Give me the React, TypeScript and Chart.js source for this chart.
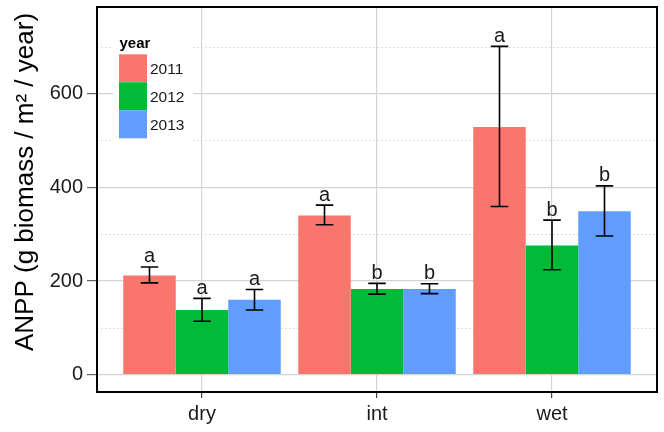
import React, { useEffect, useRef } from "react";
import { Chart, registerables } from "chart.js";

Chart.register(...registerables);

const categories = ["dry", "int", "wet"];
const years = ["2011", "2012", "2013"];

const mean2011 = [212, 340, 529];
const upper2011 = [230, 362, 701];
const lower2011 = [196, 320, 359];
const letters2011 = ["a", "a", "a"];

const mean2012 = [138, 183, 276];
const upper2012 = [163, 195, 330];
const lower2012 = [114, 172, 224];
const letters2012 = ["a", "b", "b"];

const mean2013 = [160, 183, 349];
const upper2013 = [182, 194, 403];
const lower2013 = [138, 173, 296];
const letters2013 = ["a", "b", "b"];

const yMajorTicks = [0, 200, 400, 600];
const yMinorLines = [100, 300, 500, 700];

const yearColors = ["#F8766D", "#00BA38", "#619CFF"];
const yTitle = "ANPP (g biomass / m\u00B2 / year)";
const legendTitle = "year";

const FONT = "'Liberation Sans', Arial, Helvetica, sans-serif";

const overlayPlugin = {
  id: "overlay",
  beforeDatasetsDraw(chart: any) {
    const { ctx, chartArea } = chart;
    const y = chart.scales.y;
    ctx.save();
    ctx.strokeStyle = "#d0d0d0";
    ctx.lineWidth = 1;
    ctx.setLineDash([1.5, 2.5]);
    yMinorLines.forEach((v) => {
      const py = Math.round(y.getPixelForValue(v)) + 0.5;
      ctx.beginPath();
      ctx.moveTo(chartArea.left, py);
      ctx.lineTo(chartArea.right, py);
      ctx.stroke();
    });
    ctx.restore();
  },
  afterDatasetsDraw(chart: any) {
    const { ctx } = chart;
    const x = chart.scales.x;
    const y = chart.scales.y;
    const half = x.getPixelForValue(1.05) - x.getPixelForValue(1);
    chart.data.datasets.forEach((ds: any, di: number) => {
      const meta = chart.getDatasetMeta(di);
      meta.data.forEach((bar: any, i: number) => {
        const cx = bar.x;
        const yt = y.getPixelForValue(ds.upper[i]);
        const yb = y.getPixelForValue(ds.lower[i]);
        ctx.save();
        ctx.strokeStyle = "#000";
        ctx.lineWidth = 1.6;
        ctx.beginPath();
        ctx.moveTo(cx, yt);
        ctx.lineTo(cx, yb);
        ctx.moveTo(cx - half, yt);
        ctx.lineTo(cx + half, yt);
        ctx.moveTo(cx - half, yb);
        ctx.lineTo(cx + half, yb);
        ctx.stroke();
        ctx.fillStyle = "#1a1a1a";
        ctx.font = `20px ${FONT}`;
        ctx.textAlign = "center";
        ctx.textBaseline = "alphabetic";
        ctx.fillText(ds.letters[i], cx, yt - 4.5);
        ctx.restore();
      });
    });
  },
  afterDraw(chart: any) {
    const { ctx, chartArea } = chart;
    ctx.save();
    // panel border
    ctx.strokeStyle = "#000";
    ctx.lineWidth = 2;
    ctx.strokeRect(
      chartArea.left,
      chartArea.top,
      chartArea.right - chartArea.left,
      chartArea.bottom - chartArea.top
    );
    // legend
    ctx.fillStyle = "#ffffff";
    ctx.fillRect(113, 32, 80, 113);
    ctx.fillStyle = "#000";
    ctx.font = `bold 15px ${FONT}`;
    ctx.textAlign = "left";
    ctx.textBaseline = "alphabetic";
    ctx.fillText(legendTitle, 119.5, 48);
    years.forEach((yr, k) => {
      const top = 54.3 + k * 28;
      ctx.fillStyle = yearColors[k];
      ctx.fillRect(119, top, 28, 28);
      ctx.fillStyle = "#1a1a1a";
      ctx.font = `15.5px ${FONT}`;
      ctx.textBaseline = "alphabetic";
      ctx.fillText(yr, 150, top + 19.5);
    });
    // y title
    ctx.translate(33, 182);
    ctx.rotate(-Math.PI / 2);
    ctx.fillStyle = "#000";
    ctx.font = `26px ${FONT}`;
    ctx.textAlign = "center";
    ctx.textBaseline = "alphabetic";
    ctx.fillText(yTitle, 0, 0);
    ctx.restore();
  },
};

export default function App() {
  const canvasRef = useRef<HTMLCanvasElement | null>(null);

  useEffect(() => {
    document.body.style.margin = "0";
    const canvas = canvasRef.current;
    if (!canvas) return;
    const mk = (
      label: string,
      means: number[],
      upper: number[],
      lower: number[],
      letters: string[],
      color: string
    ) => ({
      label,
      data: means.map((v, i) => ({ x: i + 1, y: v })),
      backgroundColor: color,
      borderWidth: 0,
      upper,
      lower,
      letters,
      categoryPercentage: 0.9,
      barPercentage: 1,
    });
    const chart = new Chart(canvas, {
      type: "bar",
      data: {
        datasets: [
          mk(years[0], mean2011, upper2011, lower2011, letters2011, yearColors[0]),
          mk(years[1], mean2012, upper2012, lower2012, letters2012, yearColors[1]),
          mk(years[2], mean2013, upper2013, lower2013, letters2013, yearColors[2]),
        ] as any,
      },
      options: {
        animation: false,
        responsive: false,
        maintainAspectRatio: false,
        layout: { padding: { left: 0, top: 7, right: 7, bottom: 0 } },
        plugins: {
          legend: { display: false },
          tooltip: { enabled: false },
        },
        scales: {
          x: {
            type: "linear",
            min: 0.4,
            max: 3.6,
            offset: false,
            afterBuildTicks: (scale: any) => {
              scale.ticks = categories.map((_, i) => ({ value: i + 1 }));
            },
            afterFit: (scale: any) => {
              scale.height = 40;
              scale.paddingLeft = 0;
              scale.paddingRight = 0;
              scale.paddingTop = 0;
              scale.paddingBottom = 0;
            },
            grid: {
              offset: false,
              color: "#d4d4d4",
              lineWidth: 1.2,
              tickColor: "#444",
              tickLength: 6,
            },
            border: { display: false },
            ticks: {
              padding: 4,
              color: "#1a1a1a",
              font: { family: FONT, size: 20 },
              maxRotation: 0,
              autoSkip: false,
              callback: (_v: any, index: number) => categories[index],
            },
          },
          y: {
            type: "linear",
            min: -37,
            max: 785,
            afterBuildTicks: (scale: any) => {
              scale.ticks = yMajorTicks.map((v) => ({ value: v }));
            },
            afterFit: (scale: any) => {
              scale.width = 97;
              scale.paddingTop = 0;
              scale.paddingBottom = 0;
              scale.paddingLeft = 0;
              scale.paddingRight = 0;
            },
            grid: {
              color: "#d4d4d4",
              lineWidth: 1.2,
              tickColor: "#666",
              tickLength: 10,
            },
            border: { display: false },
            ticks: {
              padding: 4,
              color: "#1a1a1a",
              font: { family: FONT, size: 20 },
              callback: (v: any) => String(v),
            },
          },
        },
      } as any,
      plugins: [overlayPlugin],
    });
    return () => chart.destroy();
  }, []);

  return (
    <div style={{ width: 664, height: 432 }}>
      <canvas
        ref={canvasRef}
        width={664}
        height={432}
        style={{ display: "block", width: 664, height: 432 }}
      />
    </div>
  );
}
